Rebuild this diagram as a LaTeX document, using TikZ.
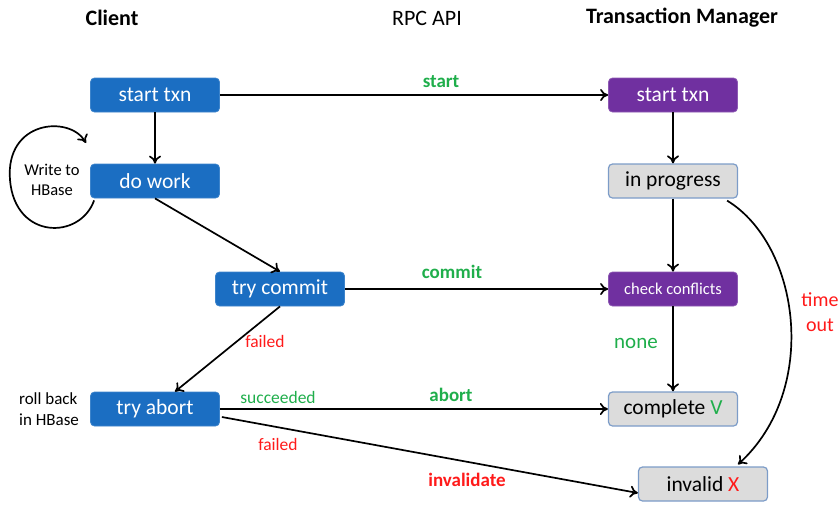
\documentclass[tikz,border=0pt]{standalone}
\usepackage{fontspec}
\setmainfont{Carlito}
\usetikzlibrary{arrows.meta,calc}
\definecolor{clientblue}{HTML}{1B6EC2}
\definecolor{mgrpurple}{HTML}{7030A0}
\definecolor{stategray}{HTML}{DCDCDC}
\definecolor{stateedge}{HTML}{7C9CC8}
\definecolor{okgreen}{HTML}{1FAE4B}
\definecolor{badred}{HTML}{FF1A1A}
\begin{document}
\begin{tikzpicture}[x=1pt,y=-1pt,
    component/.style={
        rectangle,
        rounded corners=4pt,
        minimum width=129pt,
        minimum height=34pt,
        inner sep=2pt,
        font=\fontsize{21.5}{25}\selectfont,
        align=center
    },
    clientbox/.style={component, fill=clientblue, draw=clientblue!85!white, line width=0.8pt, text=white},
    mgrbox/.style={component, fill=mgrpurple, draw=mgrpurple!80!white, line width=0.8pt, text=white},
    statebox/.style={component, fill=stategray, draw=stateedge, line width=1.2pt, text=black},
    header/.style={font=\fontsize{22}{26}\selectfont},
    msg/.style={font=\fontsize{19}{22}\selectfont\bfseries},
    note/.style={font=\fontsize{17.5}{21}\selectfont, align=center},
    flow/.style={-{To[length=8pt,width=12pt]}, line width=1.7pt}
]
\useasboundingbox (0,0) rectangle (839,507);

% Headers
\node[header, font=\fontsize{22}{26}\selectfont\bfseries] (hclient) at (112,18) {Client};
\node[header] (hrpc) at (427,18) {RPC API};
\node[header, font=\fontsize{22}{26}\selectfont\bfseries] (hmgr) at (682,18) {Transaction Manager};

% Client side
\node[clientbox] (cstart) at (155,95) {start txn};
\node[clientbox] (dowork) at (155,181) {do work};
\node[clientbox] (trycommit) at (280,289) {try commit};
\node[clientbox] (tryabort) at (155,409) {try abort};

% Transaction manager side
\node[mgrbox] (mstart) at (673,95) {start txn};
\node[statebox] (inprogress) at (673,181) {in progress};
\node[mgrbox, font=\fontsize{16.5}{19}\selectfont] (check) at (673,289) {check conflicts};
\node[statebox] (complete) at (673,409) {complete \textcolor{okgreen}{V}};
\node[statebox] (invalid) at (703,484) {invalid \textcolor{badred}{X}};

% Side notes
\node[note, font=\fontsize{16.5}{20}\selectfont] (writenote) at (52,180) {Write to\\HBase};
\node[note, font=\fontsize{17}{21}\selectfont, align=left] (rollnote) at (49,409) {roll back\\in HBase};

% Arrows
\draw[flow] (cstart) -- (mstart);
\draw[flow] (cstart) -- (dowork);
\draw[flow] (dowork.south) -- (trycommit.north);
\draw[flow] (trycommit) -- (check);
\draw[flow] (trycommit.south) -- ($(tryabort.north)+(20,0)$);
\draw[flow] (tryabort) -- (complete);
\draw[flow] ($(tryabort.east)+(2,8)$) -- ($(invalid.west)+(0,9)$);
\draw[flow] (mstart) -- (inprogress);
\draw[flow] (inprogress) -- (check);
\draw[flow] (check) -- (complete);
\draw[flow] ($(inprogress.south east)+(-11,2)$) .. controls (800,245) and (820,390) .. ($(invalid.north)+(35,-2)$);
\coordinate (loopend) at (86,143);
\draw[flow] ($(dowork.south west)+(4,2)$) .. controls (80,240) and (15,240) .. (10,180)
    .. controls (5,120) and (70,115) .. (loopend);

% Labels
\node[msg, text=okgreen] (lstart) at (441,82) {start};
\node[msg, text=okgreen] (lcommit) at (452,272) {commit};
\node[msg, text=okgreen] (labort) at (451,395) {abort};
\node[msg, text=badred] (linval) at (467,480) {invalidate};
\node[note, text=okgreen] (lsucc) at (278,397) {succeeded};
\node[note, text=badred] (lfail1) at (265,341) {failed};
\node[note, text=badred] (lfail2) at (278,444) {failed};
\node[font=\fontsize{21}{25}\selectfont, text=okgreen] (lnone) at (636,343) {none};
\node[font=\fontsize{20}{25}\selectfont, text=badred, align=center] (ltime) at (820,312) {time\\out};

\end{tikzpicture}
\end{document}
